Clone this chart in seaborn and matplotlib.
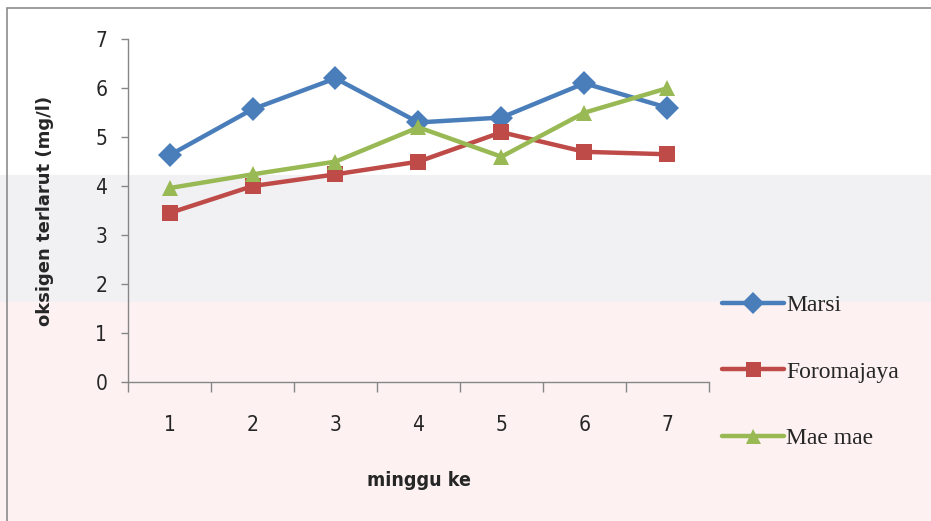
import pandas as pd
import numpy as np
import matplotlib.pyplot as plt
import seaborn as sns
from matplotlib.patches import Rectangle

sns.set_style("white")

weeks = [1, 2, 3, 4, 5, 6, 7]
marsi = [4.63, 5.57, 6.2, 5.3, 5.4, 6.1, 5.6]
foromajaya = [3.45, 4.0, 4.24, 4.5, 5.1, 4.7, 4.65]
mae_mae = [3.96, 4.24, 4.5, 5.2, 4.6, 5.5, 6.0]
series_names = ["Marsi", "Foromajaya", "Mae mae"]

df = pd.DataFrame({
    "minggu": weeks * 3,
    "oksigen": marsi + foromajaya + mae_mae,
    "lokasi": np.repeat(series_names, len(weeks)),
})

palette = {"Marsi": "#4a7ebb", "Foromajaya": "#be4b48", "Mae mae": "#98b954"}

fig = plt.figure(figsize=(9.31, 5.21), dpi=100)
fig.patch.set_facecolor("white")

# faint watermark bands behind the chart
fig.patches.append(Rectangle((0, 0.42), 1, 0.245, transform=fig.transFigure,
                             facecolor="#f1f1f3", edgecolor="none", zorder=-3))
fig.patches.append(Rectangle((0, 0), 1, 0.42, transform=fig.transFigure,
                             facecolor="#fdf1f1", edgecolor="none", zorder=-3))
fig.patches.append(Rectangle((0.0075, -0.1), 1.1, 1.085, transform=fig.transFigure,
                             facecolor="none", edgecolor="#8c8c8c", lw=1.2, zorder=5))

ax = fig.add_axes([0.1375, 0.2668, 0.624, 0.658])
ax.set_facecolor("none")

sns.lineplot(data=df, x="minggu", y="oksigen", hue="lokasi", style="lokasi",
             hue_order=series_names, style_order=series_names,
             palette=palette, markers=["D", "s", "^"], dashes=False,
             linewidth=3.2, markersize=12, markeredgewidth=0, ax=ax)

tick_font = {"family": "DejaVu Sans", "stretch": "condensed", "size": 15}

ax.set_xlim(0.5, 7.5)
ax.set_ylim(0, 7)
ax.set_yticks(range(0, 8))
ax.set_yticklabels([str(v) for v in range(0, 8)], fontdict=tick_font)
ax.set_xticks(np.arange(0.5, 8, 1))
ax.set_xticklabels([])
ax.set_xticks(weeks, minor=True)
ax.set_xticklabels([str(w) for w in weeks], minor=True, fontdict=tick_font)
ax.tick_params(axis="x", which="major", length=7, direction="out", color="#868686",
               width=1, bottom=True)
ax.tick_params(axis="x", which="minor", length=0, pad=24, bottom=True)
ax.tick_params(axis="y", length=5, direction="out", color="#868686", width=1,
               pad=10, left=True)

for side in ["top", "right"]:
    ax.spines[side].set_visible(False)
for side in ["left", "bottom"]:
    ax.spines[side].set_color("#868686")
    ax.spines[side].set_linewidth(1)

ax.set_xlabel("minggu ke", fontsize=14, fontweight="bold",
              family="DejaVu Sans", stretch="condensed", labelpad=26)
ax.set_ylabel("oksigen terlarut (mg/l)", fontsize=13, fontweight="bold",
              family="DejaVu Sans", labelpad=30)

handles, labels = ax.get_legend_handles_labels()
ax.get_legend().remove()
fig.legend(handles, labels, loc="upper left", bbox_to_anchor=(0.753, 0.475),
           frameon=False, prop={"family": "Liberation Serif", "size": 17},
           labelspacing=1.9, handlelength=2.6, handletextpad=0.1, markerscale=0.9)

plt.savefig("out.png", dpi=100)
